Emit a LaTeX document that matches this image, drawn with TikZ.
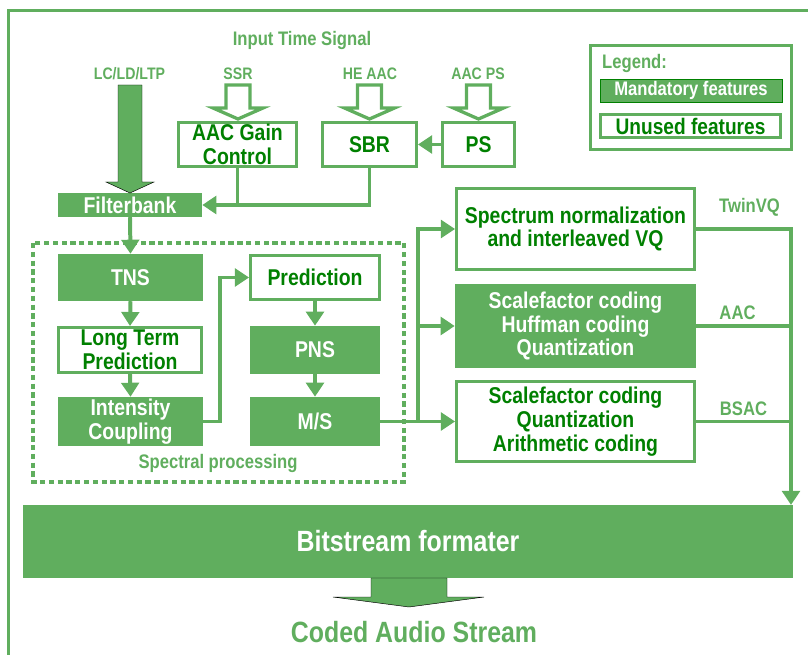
\documentclass[tikz,border=0pt]{standalone}
\usepackage{fontspec}
\newfontfamily\narrowsans[FakeStretch=0.85]{Liberation Sans}
\usetikzlibrary{arrows.meta}
\definecolor{featgreen}{RGB}{96,174,94}
\definecolor{darkgreen}{RGB}{0,128,0}
\newcommand{\blockfont}{\narrowsans\bfseries\fontsize{19.5}{20.4}\selectfont}
\newcommand{\tagfont}{\narrowsans\bfseries\fontsize{14.2}{16}\selectfont}
\newcommand{\notefont}{\narrowsans\bfseries\fontsize{16.7}{19}\selectfont}
\newcommand{\bigfont}{\narrowsans\bfseries\fontsize{25}{28}\selectfont}
\tikzstyle{mandatory} = [fill=featgreen, text=white, font=\blockfont, align=center, inner sep=0pt]
\tikzstyle{unused} = [draw=featgreen, line width=2.5pt, fill=white, text=darkgreen, font=\blockfont, align=center, inner sep=0pt]
\tikzstyle{tag} = [text=featgreen, font=\tagfont]
\tikzstyle{note} = [text=featgreen, font=\notefont]
\tikzstyle{wire} = [draw=featgreen, line width=3.4pt]
\tikzstyle{link} = [wire, -{Triangle[length=12pt,width=15pt]}]
\tikzstyle{hollow arrow} = [draw=featgreen, line width=2.8pt, fill=white]
\tikzstyle{solid arrow} = [fill=featgreen]

\begin{document}
\begin{tikzpicture}[x=0.03cm, y=-0.03cm]

	\useasboundingbox (0,0) rectangle (808,655);
	\draw[featgreen, line width=2.8pt] (8.5,655) -- (8.5,10.5) -- (808,10.5);

	\node[note] (input) at (302,40) {Input Time Signal};
	\node[tag] (lc) at (129.5,73.5) {LC/LD/LTP};
	\node[tag] (ssr) at (238,73.5) {SSR};
	\node[tag] (heaac) at (370,73.5) {HE AAC};
	\node[tag] (aacps) at (478,73.5) {AAC PS};

	\node[unused, minimum width=6.03cm, minimum height=3.12cm] (legend) at (691,97.5) {};
	\node[note, anchor=west, inner sep=0pt] (legendtitle) at (602,63) {Legend:};
	\node[mandatory, draw=darkgreen, line width=0.8pt, font=\notefont, minimum width=5.46cm, minimum height=0.69cm] (mandkey) at (691,90.5) {Mandatory features};
	\node[unused, minimum width=5.4cm, minimum height=0.69cm, font=\narrowsans\bfseries\fontsize{19.2}{21}\selectfont] (unusedkey) at (690.5,126) {Unused features};

	\node[unused, minimum width=3.54cm, minimum height=1.32cm] (gain) at (237.5,144.5) {AAC Gain\\Control};
	\node[unused, minimum width=2.82cm, minimum height=1.32cm] (sbr) at (369.5,144.5) {SBR};
	\node[unused, minimum width=2.16cm, minimum height=1.32cm] (ps) at (478.5,144.5) {PS};
	\node[mandatory, minimum width=4.32cm, minimum height=0.72cm] (fb) at (130,205) {Filterbank};

	\draw[featgreen, line width=3.2pt, dash pattern=on 4.5pt off 3pt] (33,243) rectangle (404,482);
	\node[mandatory, minimum width=4.35cm, minimum height=1.41cm] (tns) at (130.5,277.5) {TNS};
	\node[unused, minimum width=4.29cm, minimum height=1.35cm] (ltp) at (130,350) {Long Term\\Prediction};
	\node[mandatory, minimum width=4.35cm, minimum height=1.47cm] (ic) at (130.5,421.5) {Intensity\\Coupling};
	\node[unused, minimum width=3.87cm, minimum height=1.32cm] (pred) at (315,277.5) {Prediction};
	\node[mandatory, minimum width=3.9cm, minimum height=1.44cm] (pns) at (315,350) {PNS};
	\node[mandatory, minimum width=3.9cm, minimum height=1.47cm] (ms) at (315,421.5) {M/S};
	\node[note] (spectral) at (218,463) {Spectral processing};

	\node[unused, minimum width=7.14cm, minimum height=2.43cm] (spec) at (575.5,229) {Spectrum normalization\\and interleaved VQ};
	\node[mandatory, minimum width=7.23cm, minimum height=2.52cm] (aacbox) at (575.5,326) {Scalefactor coding\\Huffman coding\\Quantization};
	\node[unused, minimum width=7.14cm, minimum height=2.4cm] (bsac) at (575.5,421.5) {Scalefactor coding\\Quantization\\Arithmetic coding};
	\node[note] (twinvq) at (749.5,207) {TwinVQ};
	\node[note] (aac) at (737.5,313) {AAC};
	\node[note] (bsactag) at (743.5,409) {BSAC};

	\node[mandatory, font=\bigfont, minimum width=23.1cm, minimum height=2.19cm] (bits) at (408,541.5) {Bitstream formater};
	\node[note, font=\bigfont] (coded) at (414,632) {Coded Audio Stream};

	\draw[solid arrow] (118,85) -- (142,85) -- (142,182) -- (154,182) -- (130,193) -- (106,182) -- (118,182) -- cycle;
	\foreach \cx in {238,369.5,478.5}
		\draw[hollow arrow] (\cx-12,85) -- (\cx+12,85) -- (\cx+12,108) -- (\cx+25,108) -- (\cx,119) -- (\cx-25,108) -- (\cx-12,108) -- cycle;
	\draw[solid arrow] (371,578) -- (447,578) -- (447,597) -- (484,597) -- (409,607) -- (333,597) -- (371,597) -- cycle;

	\draw[link] (ps.west) -- (sbr.east);
	\draw[wire] (gain.south) -- (gain.south |- fb.east);
	\draw[link] (sbr.south) |- (fb.east);
	\draw[link] (fb.south) -- (tns.north);
	\draw[link] (tns.south) -- (ltp.north);
	\draw[link] (ltp.south) -- (ic.north);
	\draw[link] (ic.east) -- ++(16.5,0) |- (pred.west);
	\draw[link] (pred.south) -- (pns.north);
	\draw[link] (pns.south) -- (ms.north);

	\coordinate (split) at (418,421.5);
	\draw[link] (ms.east) -- (bsac.west);
	\draw[link] (split) |- (spec.west);
	\draw[link] (split |- aacbox.west) -- (aacbox.west);

	\coordinate (outtop) at (791,505);
	\draw[link] (spec.east) -| (outtop);
	\draw[wire] (aacbox.east) -- (aacbox.east -| outtop);
	\draw[wire] (bsac.east) -- (bsac.east -| outtop);

\end{tikzpicture}
\end{document}
